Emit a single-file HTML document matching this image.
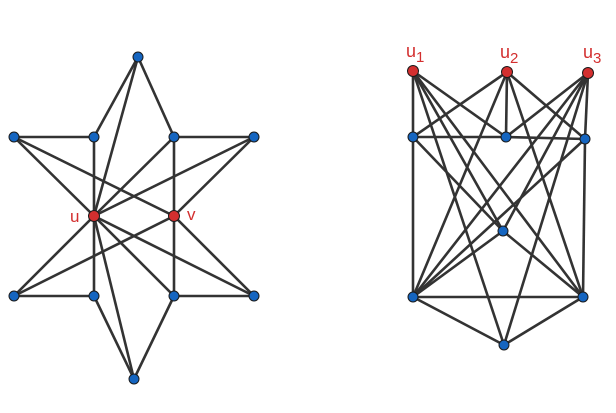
<!DOCTYPE html>
<html><head><style>body{margin:0;background:#fff}svg{display:block}</style></head><body>
<svg width="616" height="413" viewBox="0 0 616 413" xmlns="http://www.w3.org/2000/svg">
<g stroke="#333" stroke-width="2.6" fill="none">
<line x1="138" y1="57" x2="94" y2="137"/><line x1="138" y1="57" x2="94" y2="216"/><line x1="138" y1="57" x2="174" y2="137"/>
<line x1="14" y1="137" x2="94" y2="137"/><line x1="14" y1="137" x2="94" y2="216"/><line x1="14" y1="137" x2="174" y2="216"/>
<line x1="94" y1="137" x2="94" y2="216"/>
<line x1="174" y1="137" x2="94" y2="216"/><line x1="174" y1="137" x2="174" y2="216"/>
<line x1="254" y1="137" x2="174" y2="137"/><line x1="254" y1="137" x2="94" y2="216"/><line x1="254" y1="137" x2="174" y2="216"/>
<line x1="94" y1="216" x2="14" y2="296"/><line x1="94" y1="216" x2="94" y2="296"/><line x1="94" y1="216" x2="174" y2="296"/><line x1="94" y1="216" x2="254" y2="296"/><line x1="94" y1="216" x2="134" y2="379"/>
<line x1="174" y1="216" x2="14" y2="296"/><line x1="174" y1="216" x2="174" y2="296"/><line x1="174" y1="216" x2="254" y2="296"/>
<line x1="14" y1="296" x2="94" y2="296"/><line x1="94" y1="296" x2="134" y2="379"/><line x1="174" y1="296" x2="134" y2="379"/><line x1="174" y1="296" x2="254" y2="296"/>
<line x1="413" y1="71" x2="413" y2="137"/><line x1="413" y1="71" x2="506" y2="137"/><line x1="413" y1="71" x2="503" y2="231"/><line x1="413" y1="71" x2="583" y2="297"/><line x1="413" y1="71" x2="504" y2="345"/>
<line x1="507" y1="72" x2="413" y2="137"/><line x1="507" y1="72" x2="506" y2="137"/><line x1="507" y1="72" x2="585" y2="139"/><line x1="507" y1="72" x2="413" y2="297"/><line x1="507" y1="72" x2="583" y2="297"/>
<line x1="588" y1="73" x2="506" y2="137"/><line x1="588" y1="73" x2="585" y2="139"/><line x1="588" y1="73" x2="503" y2="231"/><line x1="588" y1="73" x2="413" y2="297"/><line x1="588" y1="73" x2="504" y2="345"/>
<line x1="413" y1="137" x2="506" y2="137"/><line x1="506" y1="137" x2="585" y2="139"/><line x1="413" y1="137" x2="413" y2="297"/><line x1="585" y1="139" x2="583" y2="297"/>
<line x1="413" y1="137" x2="503" y2="231"/><line x1="585" y1="139" x2="413" y2="297"/>
<line x1="503" y1="231" x2="413" y2="297"/><line x1="503" y1="231" x2="583" y2="297"/>
<line x1="413" y1="297" x2="583" y2="297"/><line x1="413" y1="297" x2="504" y2="345"/><line x1="583" y1="297" x2="504" y2="345"/>
</g>
<g stroke="#1a1a1a" stroke-width="1" fill="#1565c0">
<circle cx="138" cy="57" r="5"/><circle cx="14" cy="137" r="5"/><circle cx="94" cy="137" r="5"/><circle cx="174" cy="137" r="5"/><circle cx="254" cy="137" r="5"/>
<circle cx="14" cy="296" r="5"/><circle cx="94" cy="296" r="5"/><circle cx="174" cy="296" r="5"/><circle cx="254" cy="296" r="5"/><circle cx="134" cy="379" r="5"/>
<circle cx="413" cy="137" r="5"/><circle cx="506" cy="137" r="5"/><circle cx="585" cy="139" r="5"/><circle cx="503" cy="231" r="5"/><circle cx="413" cy="297" r="5"/><circle cx="583" cy="297" r="5"/><circle cx="504" cy="345" r="5"/>
</g>
<g stroke="#1a1a1a" stroke-width="1" fill="#d32f2f">
<circle cx="94" cy="216" r="5.5"/><circle cx="174" cy="216" r="5.5"/>
<circle cx="413" cy="71" r="5.5"/><circle cx="507" cy="72" r="5.5"/><circle cx="588" cy="73" r="5.5"/>
</g>
<g fill="#d32f2f" font-family="Liberation Sans, sans-serif" font-size="17">
<text x="70" y="222">u</text><text x="187" y="220">v</text>
<text x="406" y="57" font-size="18">u<tspan font-size="15" dy="5">1</tspan></text>
<text x="500" y="58" font-size="18">u<tspan font-size="15" dy="5">2</tspan></text>
<text x="583" y="58" font-size="18">u<tspan font-size="15" dy="5">3</tspan></text>
</g>
</svg>
</body></html>
